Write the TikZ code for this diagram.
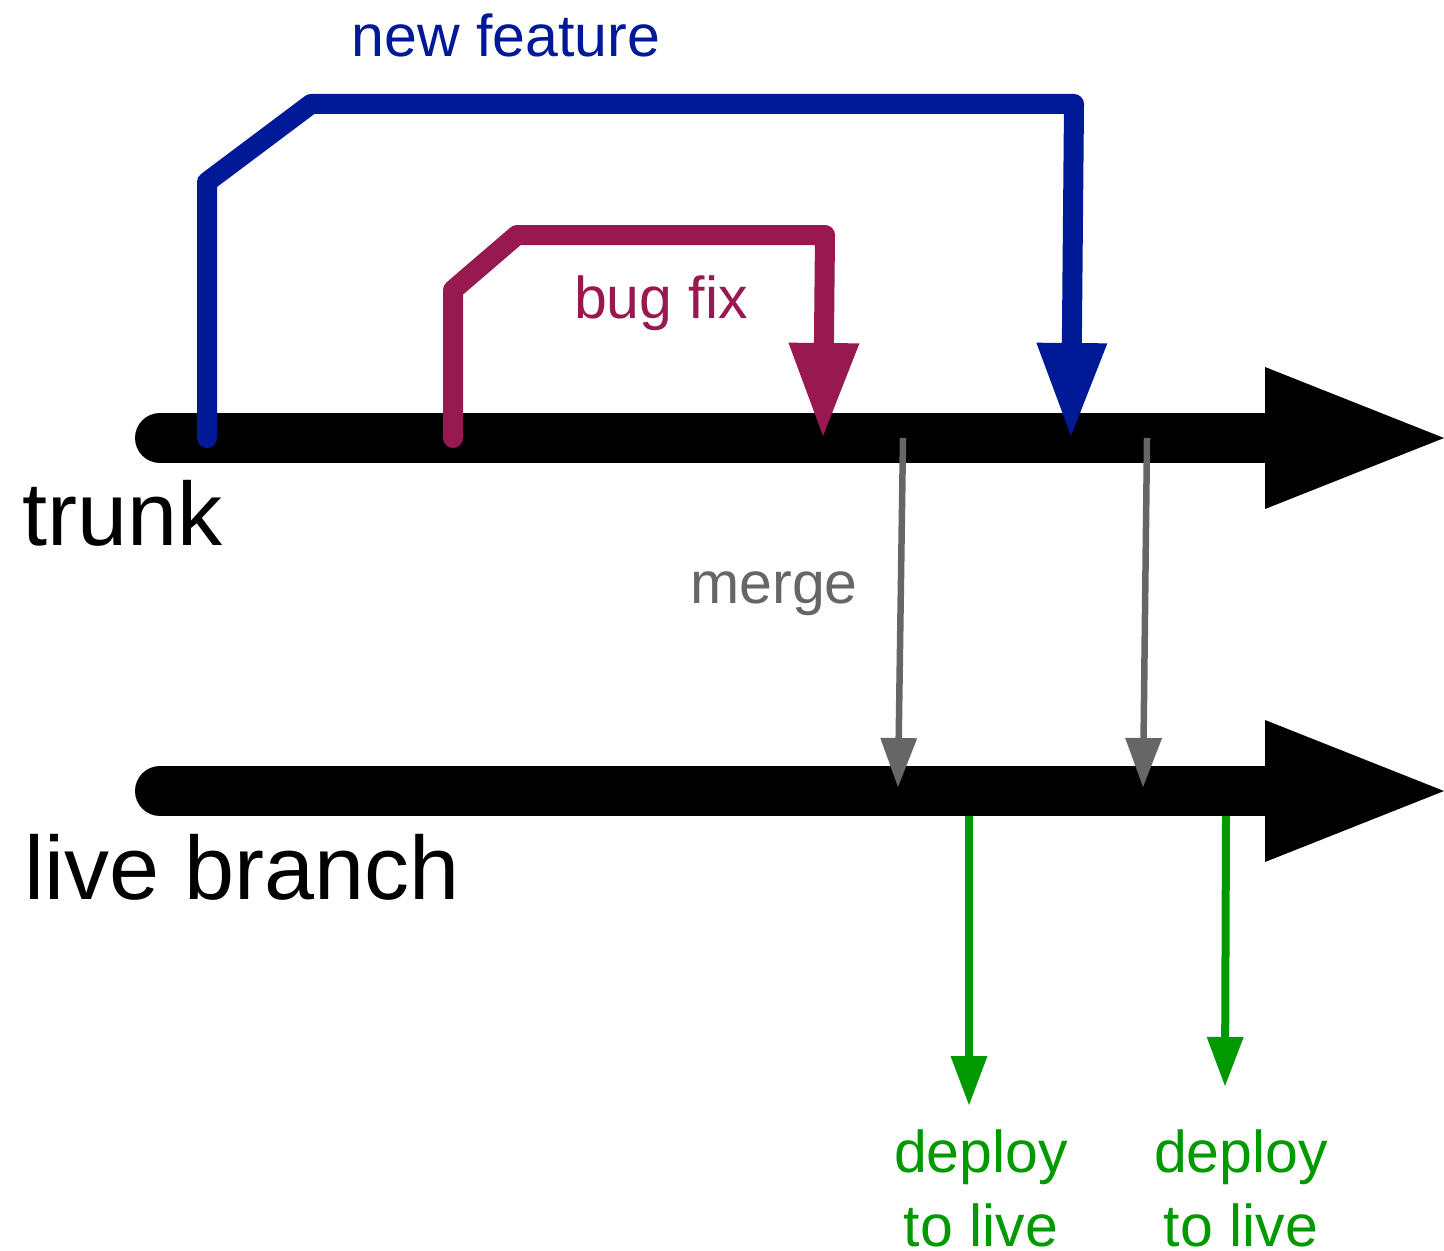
\documentclass[tikz,border=0pt]{standalone}
\usepackage{fontspec}
\setmainfont{Liberation Sans}
\usetikzlibrary{arrows.meta}

\definecolor{featblue}{RGB}{0,25,150}
\definecolor{fixred}{RGB}{152,24,80}
\definecolor{mergegray}{RGB}{102,102,102}
\definecolor{deploygreen}{RGB}{0,153,0}

\tikzset{
	branch/.style={line width=0.5cm, line cap=round, -{Triangle[length=1.79cm, width=1.42cm, line width=0pt]}},
	work/.style={line width=0.2cm, line cap=round, line join=round, -{Triangle[length=0.93cm, width=0.71cm, line width=0pt]}},
	thin arrow/.style={-{Triangle[length=0.49cm, width=0.37cm, line width=0pt]}},
	lbl/.style={inner sep=0pt, anchor=base, align=center, font=\fontsize{16.8pt}{21pt}\selectfont},
	big lbl/.style={inner sep=0pt, anchor=base west, font=\fontsize{25.6pt}{30pt}\selectfont}
}

\begin{document}
\begin{tikzpicture}
	\useasboundingbox (0,0) rectangle (14.44,-12.5);
	
	% branches
	\coordinate (trunkA) at (1.60,-4.38);
	\coordinate (trunkB) at (14.44,-4.38);
	\coordinate (liveA) at (1.60,-7.91);
	\coordinate (liveB) at (14.44,-7.91);
	\draw[branch] (trunkA) -- (trunkB);
	\draw[branch] (liveA) -- (liveB);
	\node[big lbl] (trunk) at (0.22,-5.45) {trunk};
	\node[big lbl] (live) at (0.24,-8.99) {live branch};
	
	% new feature
	\coordinate (featA) at (2.07,-4.38);
	\coordinate (featB) at (10.71,-4.36);
	\draw[work, featblue] (featA) -- (2.07,-1.82) -- (3.11,-1.04) -- (10.74,-1.04) -- (featB);
	\node[lbl, featblue] (feat) at (5.06,-0.57) {new feature};
	
	% bug fix
	\coordinate (fixA) at (4.53,-4.38);
	\coordinate (fixB) at (8.23,-4.36);
	\draw[work, fixred] (fixA) -- (4.53,-2.90) -- (5.17,-2.35) -- (8.25,-2.35) -- (fixB);
	\node[lbl, fixred] (fix) at (6.61,-3.18) {bug fix};
	
	% merges
	\coordinate (merge1A) at (9.03,-4.38);
	\coordinate (merge1B) at (8.98,-7.87);
	\coordinate (merge2A) at (11.47,-4.38);
	\coordinate (merge2B) at (11.43,-7.87);
	\draw[thin arrow, mergegray, line width=0.065cm] (merge1A) -- (merge1B);
	\draw[thin arrow, mergegray, line width=0.065cm] (merge2A) -- (merge2B);
	\node[lbl, mergegray] (merge) at (7.74,-6.03) {merge};
	
	% deploys
	\coordinate (deploy1A) at (9.69,-8.16);
	\coordinate (deploy1B) at (9.69,-11.05);
	\coordinate (deploy2A) at (12.26,-8.16);
	\coordinate (deploy2B) at (12.25,-10.86);
	\draw[thin arrow, deploygreen, line width=0.08cm] (deploy1A) -- (deploy1B);
	\draw[thin arrow, deploygreen, line width=0.08cm] (deploy2A) -- (deploy2B);
	\node[lbl, deploygreen] (deploy1) at (9.81,-12.46) {deploy\\to live};
	\node[lbl, deploygreen] (deploy2) at (12.41,-12.46) {deploy\\to live};
	
\end{tikzpicture}
\end{document}
